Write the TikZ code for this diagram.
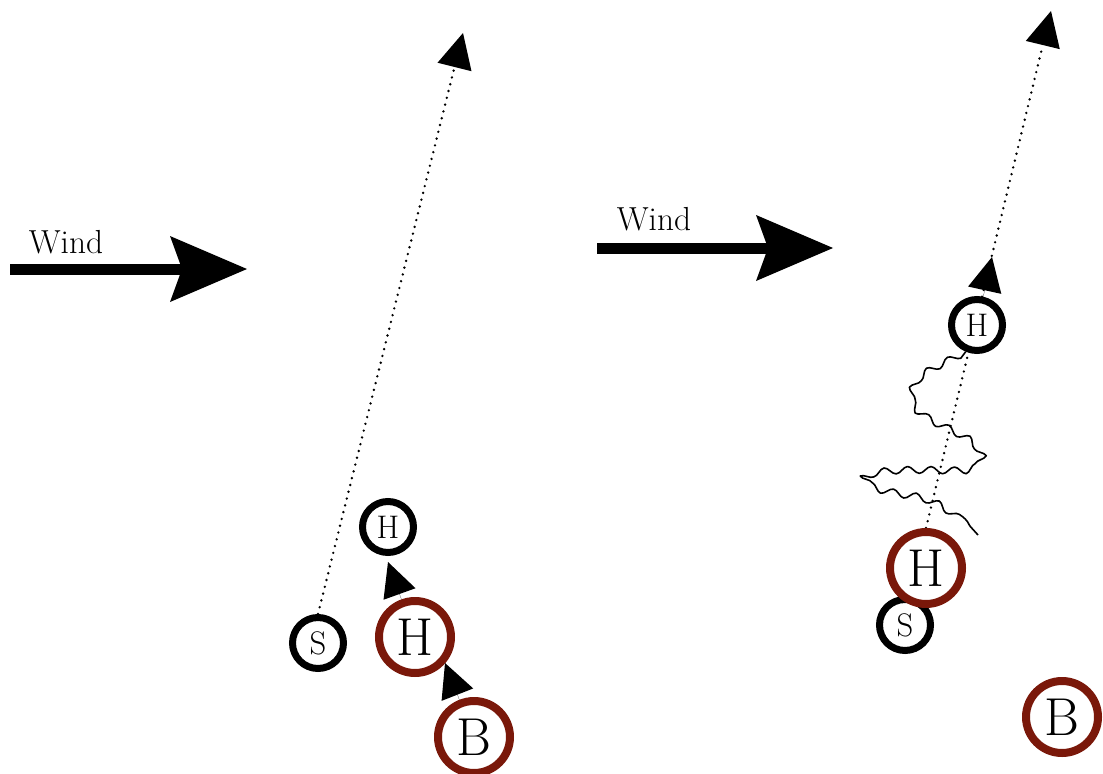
\documentclass[tikz,border=0pt]{standalone}
\usetikzlibrary{arrows.meta,decorations.pathmorphing,backgrounds}
\definecolor{hred}{RGB}{122,24,10}
\begin{document}
\begin{tikzpicture}[x=0.75pt,y=-0.75pt,
  smallc/.style={circle, draw=black, line width=5.25pt, minimum size=38.25pt, inner sep=0pt, fill=white, font=\fontsize{24.5}{24.5}\selectfont},
  bigc/.style={circle, draw=hred, line width=6pt, minimum size=54pt, inner sep=0pt, fill=white, font=\fontsize{40}{40}\selectfont},
  windtext/.style={inner sep=0pt, font=\fontsize{25}{25}\selectfont},
  windarrow/.style={line width=8.25pt, -{Stealth[length=57.75pt,width=49.5pt,inset=9pt,line width=0pt]}},
  tri/.style={line width=0.1pt, -{Triangle[length=25.5pt,width=25.5pt,line width=0pt]}},
  dots/.style={line width=2pt, line cap=round, dash pattern=on 0pt off 5.25pt, -{Triangle[length=26.25pt,width=26.25pt,line width=0pt]}},
  wavy/.style={line width=1.2pt, line join=round, decorate, decoration={snake, amplitude=2.6pt, segment length=17.5pt}}]
\useasboundingbox (0,0) rectangle (1103,774);

% wind arrows
\node[windtext, anchor=base] (wt1) at (66,253) {Wind};
\node[windtext, anchor=base] (wt2) at (654,230) {Wind};
\coordinate (w1a) at (10,269);
\coordinate (w1b) at (247,269);
\coordinate (w2a) at (597,248);
\coordinate (w2b) at (833,248);
\draw[windarrow] (w1a) -- (w1b);
\draw[windarrow] (w2a) -- (w2b);

% nodes
\node[smallc] (S1) at (318,643) {S};
\node[smallc] (sH1) at (388,527) {H};
\node[bigc] (bH1) at (415,637) {H};
\node[bigc] (B1) at (474,737) {B};
\node[smallc] (sH2) at (977,325) {H};
\node[smallc] (S2) at (905,625) {S};
\node[bigc] (bH2) at (926,568) {H};
\node[bigc] (B2) at (1062,717) {B};

% tips
\coordinate (tL) at (463,33);
\coordinate (tR) at (1051,11);
\coordinate (a1) at (388,562);
\coordinate (a2) at (445,663);
\coordinate (a3) at (992,257);

\begin{scope}[on background layer]
\draw[dots] (S1.north) -- (tL);
\draw[dots] (bH2.north) -- (tR);
\end{scope}

\draw[tri] (bH1) -- (a1);
\draw[tri] (B1) -- (a2);
\draw[tri] (sH2) -- (a3);

\coordinate (wv0) at (sH2.247);
\draw[wavy] (wv0) .. controls (935,368) and (917,372) .. (917,395)
  .. controls (917,415) and (960,425) .. (976,438)
  .. controls (994,452) and (992,468) .. (965,468)
  .. controls (940,468) and (880,464) .. (870,476)
  .. controls (862,490) and (900,494) .. (922,498)
  .. controls (945,503) and (965,520) .. (978,535);
\end{tikzpicture}
\end{document}
